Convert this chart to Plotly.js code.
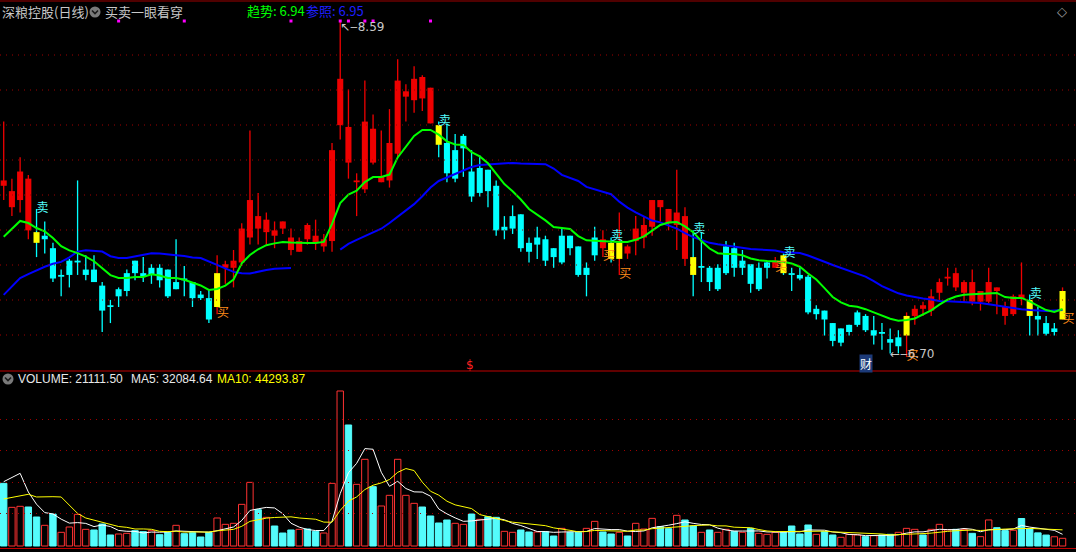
<!DOCTYPE html>
<html><head><meta charset="utf-8">
<script src="https://cdn.plot.ly/plotly-3.0.1.min.js"></script>
<style>html,body{margin:0;padding:0;background:#000;}#chart{width:1076px;height:552px;}</style>
</head><body><div id="chart"></div>
<script>
// ---------- data ----------
const open = [7.66,7.54,7.58,7.41,7.40,7.38,7.31,7.16,7.24,7.24,
7.19,7.19,7.10,6.99,7.08,7.17,7.24,7.17,7.20,7.20,
7.19,7.12,7.14,7.12,7.05,7.03,6.98,7.20,7.20,7.23,
7.37,7.42,7.40,7.38,7.42,7.30,7.29,7.36,7.34,7.32,
7.35,8.00,7.79,7.68,7.64,7.79,7.68,7.69,7.84,8.16,
8.14,8.15,8.01,8.00,7.90,7.86,7.94,7.74,7.76,7.75,
7.66,7.43,7.49,7.50,7.34,7.37,7.36,7.31,7.38,7.38,
7.32,7.20,7.37,7.31,7.34,7.25,7.28,7.35,7.37,7.43,
7.54,7.45,7.44,7.25,7.26,7.21,7.20,7.20,7.32,7.31,
7.24,7.22,7.20,7.23,7.20,7.27,7.17,7.16,7.15,6.97,
6.96,6.89,6.86,6.88,6.95,6.93,6.85,6.84,6.80,6.81,
6.82,6.93,6.97,6.96,7.06,7.14,7.09,7.06,7.01,7.01,
7.01,7.07,6.93,6.94,7.03,7.02,6.93,6.89,6.86,6.91];
const high = [8.02,7.70,7.82,7.72,7.53,7.46,7.34,7.19,7.25,7.69,
7.27,7.27,7.12,7.02,7.09,7.19,7.24,7.26,7.22,7.22,
7.19,7.36,7.21,7.12,7.07,7.08,7.27,7.24,7.30,7.45,
7.97,7.62,7.51,7.46,7.46,7.42,7.37,7.45,7.47,7.39,
7.90,8.59,8.20,7.73,8.25,8.06,7.97,8.09,8.37,8.23,
8.33,8.28,8.21,8.02,8.01,7.95,7.95,7.86,7.83,7.75,
7.69,7.49,7.55,7.50,7.37,7.43,7.38,7.31,7.42,7.38,
7.32,7.23,7.43,7.41,7.37,7.51,7.33,7.49,7.49,7.58,
7.58,7.53,7.75,7.54,7.41,7.40,7.21,7.22,7.35,7.34,
7.30,7.22,7.23,7.24,7.26,7.28,7.20,7.20,7.16,6.99,
6.96,6.89,6.86,6.88,6.96,6.94,6.93,6.89,6.86,6.85,
6.95,6.99,7.01,7.08,7.14,7.20,7.20,7.13,7.19,7.07,
7.20,7.09,7.01,7.05,7.23,7.05,6.98,6.93,6.89,7.09];
const low = [7.58,7.49,7.51,7.36,7.26,7.28,7.12,7.04,7.09,7.16,
7.13,7.12,6.84,6.89,6.98,7.04,7.13,7.12,7.11,7.09,
7.03,7.08,7.04,6.98,7.02,6.89,6.94,7.11,7.09,7.21,
7.33,7.33,7.33,7.31,7.39,7.27,7.29,7.33,7.30,7.29,
7.29,7.92,7.70,7.49,7.62,7.78,7.68,7.65,7.82,8.02,
8.07,8.08,8.01,7.82,7.68,7.68,7.71,7.57,7.60,7.54,
7.38,7.36,7.39,7.29,7.23,7.25,7.21,7.20,7.22,7.27,
7.15,7.04,7.24,7.26,7.23,7.16,7.25,7.27,7.31,7.38,
7.46,7.41,7.30,7.21,7.04,7.12,7.07,7.07,7.16,7.15,
7.16,7.06,7.07,7.14,7.20,7.16,7.07,7.13,6.94,6.91,
6.82,6.76,6.76,6.82,6.87,6.84,6.77,6.74,6.72,6.72,
6.70,6.88,6.93,6.93,7.02,7.10,7.07,7.01,6.99,6.96,
7.00,6.94,6.88,6.93,6.99,6.82,6.82,6.82,6.82,6.91];
const close = [7.69,7.63,7.74,7.70,7.34,7.36,7.14,7.15,7.16,7.23,
7.16,7.12,6.96,6.98,7.04,7.07,7.17,7.15,7.16,7.13,
7.04,7.08,7.13,7.03,7.03,6.91,7.17,7.22,7.24,7.42,
7.58,7.49,7.47,7.41,7.46,7.37,7.35,7.44,7.38,7.36,
7.86,8.26,7.99,7.69,8.02,7.98,7.71,7.90,8.25,8.19,
8.26,8.27,8.21,7.89,7.73,7.70,7.87,7.60,7.62,7.63,
7.41,7.41,7.42,7.31,7.29,7.33,7.24,7.26,7.23,7.31,
7.16,7.16,7.27,7.36,7.25,7.34,7.32,7.42,7.44,7.58,
7.58,7.53,7.51,7.49,7.16,7.20,7.12,7.08,7.17,7.20,
7.20,7.11,7.08,7.20,7.24,7.17,7.16,7.14,6.95,6.94,
6.91,6.79,6.78,6.84,6.88,6.85,6.82,6.83,6.78,6.76,
6.93,6.97,6.99,7.04,7.12,7.15,7.17,7.12,7.12,7.07,
7.12,7.09,6.98,7.04,7.05,6.93,6.91,6.83,6.84,7.07];
const volume = [171800,106000,108800,106900,79500,56700,87700,37500,52100,86800,
45700,43900,60300,30200,32900,34700,42000,39300,42000,31000,
37500,56700,33800,36600,24700,37500,76800,59400,62200,114200,
174500,99600,78600,54800,35600,43900,45700,46600,40200,35600,
171800,425000,331800,169100,237700,162700,109700,138900,237700,138900,
117000,106900,82300,63100,71300,62200,59400,87700,73100,80400,
78600,40200,37500,43900,38400,38400,39300,27400,48400,37500,
37500,48400,67600,38400,32900,37500,27400,62200,46600,75800,
53000,47500,84100,71300,54800,37500,43900,37500,45700,40200,
37500,48400,34700,32000,37500,37500,54800,32900,57600,32000,
39300,30200,23800,32000,30200,25600,28300,30200,32000,37500,
48400,45700,30200,45700,59400,43900,45700,45700,34700,25600,
71400,50300,42200,43200,75415.5,48000,36000,30000,25311.7,21111.5];
// 1 = volume bar drawn as rising (hollow red), 0 = falling (filled cyan)
const volUp = [0,1,1,0,0,1,0,1,1,1,
1,0,0,0,1,1,0,0,1,0,
0,1,0,0,0,0,1,1,1,1,
1,0,1,0,0,0,1,0,0,1,
1,1,0,1,1,0,1,1,1,1,
1,0,0,0,0,1,1,0,1,0,
0,1,1,0,0,1,0,0,1,0,
0,1,1,0,0,1,0,1,1,1,
0,0,1,0,0,1,0,1,1,0,
1,0,1,1,1,0,0,0,0,1,
0,0,1,1,1,0,1,0,0,1,
1,1,0,1,1,1,0,1,0,1,
1,0,0,1,0,0,0,0,1,1];
// trend (green) and reference (blue) indicator lines
const trendLine = [7.374,7.418,7.463,7.451,7.423,7.404,7.367,7.321,7.298,7.282,
7.263,7.237,7.198,7.159,7.143,7.143,7.149,7.149,7.164,7.157,
7.143,7.143,7.133,7.116,7.101,7.076,7.081,7.100,7.134,7.225,
7.272,7.304,7.327,7.337,7.345,7.342,7.339,7.339,7.339,7.345,
7.446,7.563,7.611,7.632,7.681,7.709,7.709,7.723,7.819,7.881,
7.940,7.973,7.973,7.947,7.909,7.892,7.889,7.849,7.825,7.786,
7.726,7.670,7.629,7.583,7.530,7.499,7.466,7.429,7.423,7.418,
7.378,7.354,7.352,7.349,7.346,7.345,7.345,7.357,7.376,7.406,
7.440,7.454,7.457,7.432,7.400,7.350,7.308,7.282,7.277,7.277,
7.270,7.252,7.242,7.238,7.238,7.234,7.224,7.206,7.168,7.134,
7.086,7.036,7.006,6.987,6.981,6.968,6.950,6.930,6.914,6.903,
6.907,6.916,6.937,6.961,6.993,7.021,7.039,7.049,7.052,7.054,
7.057,7.059,7.036,7.031,7.031,7.012,6.987,6.963,6.952,6.969];
const refLine = [7.048,7.096,7.142,7.165,7.186,7.206,7.223,7.233,7.259,7.291,
7.299,7.297,7.291,7.265,7.255,7.255,7.263,7.274,7.282,7.280,
7.277,7.271,7.266,7.258,7.255,7.237,7.217,7.197,7.177,7.169,
7.168,7.179,7.188,7.195,7.199,7.199,null,null,null,null,
null,7.302,7.334,7.357,7.378,7.399,7.419,7.451,7.487,7.522,
7.557,7.601,7.650,7.687,7.707,7.728,7.747,7.765,7.777,7.779,
7.782,7.784,7.788,7.785,7.782,7.782,7.781,7.757,7.721,7.704,
7.687,7.654,7.640,7.629,7.613,7.571,7.538,7.511,7.486,7.465,
7.455,7.437,7.420,7.394,7.372,7.356,7.340,7.332,7.325,7.319,
7.312,7.305,7.303,7.302,7.297,7.287,7.283,7.283,7.269,7.253,
7.234,7.216,7.200,7.184,7.167,7.151,7.125,7.097,7.077,7.057,
7.045,7.035,7.028,7.022,7.014,7.012,7.009,7.007,7.005,7.003,
6.995,6.988,6.980,6.972,6.967,6.963,6.960,6.958,6.961,6.963];
// volume MA values before enough history exists on the chart
const volMa5Head = [176300,188100,199300,148000];
const volMa10Head = [128900,133500,137900,141800,134400,135200,135200,134400,112400];
// signals and markers
const sellIdx = [4,53,74,84,95,125];
const buyIdx = [26,73,75,94,110,129];
const yellowIdx = [4,26,53,74,75,84,95,110,125,129];
const dotIdx = [14,22,35,41,42,44,45,52];
const dollarIdx = [57];
const caiIdx = [105];
const headerTrend = '6.94', headerRef = '6.95';

// ---------- drawing ----------
const W = 1076, H = 552;
const N = close.length;
const idx = Array.from({length: N}, (_, i) => i);
const RED = '#EE0000', CYAN = '#00FFFF', YEL = '#FFFF00';
const VRED = '#FF3232', VCYAN = '#54FCFC';
const priceRange = [6.6212, 8.702];
const volRange = [-8226, 474366];
const yellowSet = new Set(yellowIdx);
const isUp = i => close[i] >= open[i];

const px = v => v / W;            // pixel x -> paper
const py = v => 1 - v / H;        // pixel y -> paper

function movingAvg(arr, n, head) {
  return arr.map((v, i) => {
    if (i < n - 1) return head[i];
    let s = 0; for (let k = i - n + 1; k <= i; k++) s += arr[k];
    return s / n;
  });
}
const ma5 = movingAvg(volume, 5, volMa5Head);
const ma10 = movingAvg(volume, 10, volMa10Head);

const traces = [];
// wicks
traces.push({type: 'bar', x: idx, base: low, y: idx.map(i => high[i] - low[i]), width: 0.16,
  marker: {color: idx.map(i => isUp(i) ? RED : CYAN), line: {width: 0}}, xaxis: 'x', yaxis: 'y', hoverinfo: 'skip'});
// bodies
traces.push({type: 'bar', x: idx, base: idx.map(i => Math.min(open[i], close[i])),
  y: idx.map(i => Math.max(Math.abs(close[i] - open[i]), 0.006)), width: 0.74,
  marker: {color: idx.map(i => yellowSet.has(i) ? YEL : (isUp(i) ? RED : CYAN)), line: {width: 0}},
  xaxis: 'x', yaxis: 'y', hoverinfo: 'skip'});
// indicator lines
traces.push({type: 'scatter', mode: 'lines', x: idx, y: refLine, line: {color: '#0000FF', width: 2}, connectgaps: false, xaxis: 'x', yaxis: 'y'});
traces.push({type: 'scatter', mode: 'lines', x: idx, y: trendLine, line: {color: '#00FF00', width: 2}, xaxis: 'x', yaxis: 'y'});
// magenta dots along the top
const dotPrice = priceRange[1] - (priceRange[1] - priceRange[0]) * 21 / 371;
traces.push({type: 'scatter', mode: 'markers', x: dotIdx, y: dotIdx.map(() => dotPrice),
  marker: {symbol: 'square', size: 3, color: '#FF00FF'}, xaxis: 'x', yaxis: 'y'});
// signal labels
traces.push({type: 'scatter', mode: 'text', x: sellIdx, y: sellIdx.map(i => high[i]), text: sellIdx.map(() => '卖'),
  textposition: 'middle right', textfont: {family: 'Noto Sans CJK SC', size: 12, color: VCYAN}, xaxis: 'x', yaxis: 'y'});
traces.push({type: 'scatter', mode: 'text', x: buyIdx, y: buyIdx.map(i => low[i]), text: buyIdx.map(() => '买'),
  textposition: 'middle right', textfont: {family: 'Noto Sans CJK SC', size: 12, color: '#FF8C1A'}, xaxis: 'x', yaxis: 'y'});
// volume
traces.push({type: 'bar', x: idx, y: volume, width: 0.78,
  marker: {color: idx.map(i => volUp[i] ? '#000000' : VCYAN), line: {color: idx.map(i => volUp[i] ? VRED : VCYAN), width: 1}},
  xaxis: 'x', yaxis: 'y2', hoverinfo: 'skip'});
traces.push({type: 'scatter', mode: 'lines', x: idx, y: ma5, line: {color: '#FFFFFF', width: 1}, xaxis: 'x', yaxis: 'y2'});
traces.push({type: 'scatter', mode: 'lines', x: idx, y: ma10, line: {color: '#FFFF00', width: 1}, xaxis: 'x', yaxis: 'y2'});

// shapes: frame + dotted grids
const shapes = [];
[55, 90, 125, 160, 195, 230, 265, 300, 335].forEach(yy => shapes.push({type: 'line', xref: 'paper', yref: 'paper',
  x0: 0, x1: 1, y0: py(yy), y1: py(yy), line: {color: '#A00000', width: 1, dash: '1px,5px'}}));
[419.5, 450.5, 482.5, 513.5].forEach(yy => shapes.push({type: 'line', xref: 'paper', yref: 'paper',
  x0: 0, x1: 1, y0: py(yy), y1: py(yy), line: {color: '#A00000', width: 1, dash: '1px,5px'}}));
[[1, '#A00000'], [371, '#C00000'], [548.5, '#C00000']].forEach(([yy, c]) => shapes.push({type: 'line', xref: 'paper', yref: 'paper',
  x0: 0, x1: 1, y0: py(yy), y1: py(yy), line: {color: c, width: 1}}));
// round header icons
function icon(cx, cy) {
  shapes.push({type: 'circle', xref: 'paper', yref: 'paper', x0: px(cx - 5.5), x1: px(cx + 5.5), y0: py(cy + 5.5), y1: py(cy - 5.5),
    fillcolor: '#7A7A7A', line: {width: 0}});
  shapes.push({type: 'path', xref: 'paper', yref: 'paper',
    path: `M ${px(cx - 3)} ${py(cy - 1.5)} L ${px(cx)} ${py(cy + 1.5)} L ${px(cx + 3)} ${py(cy - 1.5)}`,
    line: {color: '#1A1A1A', width: 1.6}});
}
icon(95, 12);
icon(8, 379);

const ann = [];
function txt(x, y, t, color, size, family, extra) {
  ann.push(Object.assign({xref: 'paper', yref: 'paper', x: px(x), y: py(y), text: t, showarrow: false,
    xanchor: 'left', yanchor: 'middle', font: {family: family || 'Noto Sans CJK SC', size: size || 13, color: color}}, extra || {}));
}
txt(0, 12, '深粮控股(日线)', '#C8C8C8', 13);
txt(103, 12, '买卖一眼看穿', '#C8C8C8', 13);
txt(245, 11, '趋势: ' + headerTrend, '#00FF00', 13);
txt(304, 11, '参照: ' + headerRef, '#1E1EFF', 13);
txt(1055, 12, '◇', '#A0A0A0', 13, 'DejaVu Sans');
txt(16, 379, 'VOLUME: ' + volume[N - 1].toFixed(2), '#E8E8E8', 12, 'Liberation Sans');
txt(129, 379, 'MA5: ' + ma5[N - 1].toFixed(2), '#E8E8E8', 12, 'Liberation Sans');
txt(215, 379, 'MA10: ' + ma10[N - 1].toFixed(2), '#FFFF00', 12, 'Liberation Sans');

// extreme labels
let iMax = 0, iMin = 0;
idx.forEach(i => { if (high[i] > high[iMax]) iMax = i; if (low[i] < low[iMin]) iMin = i; });
ann.push({xref: 'x', yref: 'y', x: iMax, y: high[iMax], text: '↖‒' + high[iMax].toFixed(2), showarrow: false,
  xanchor: 'left', yanchor: 'top', xshift: -2, yshift: 2, font: {family: 'DejaVu Sans', size: 12, color: '#C8C8C8'}});
ann.push({xref: 'x', yref: 'y', x: iMin, y: low[iMin], text: '←‒' + low[iMin].toFixed(2), showarrow: false,
  xanchor: 'left', yanchor: 'middle', xshift: -19, yshift: 3, font: {family: 'DejaVu Sans', size: 12, color: '#C8C8C8'}});
// bottom markers of the price panel
dollarIdx.forEach(i => ann.push({xref: 'x', yref: 'paper', x: i, y: py(365), text: '$', showarrow: false,
  xanchor: 'center', yanchor: 'middle', xshift: -2, font: {family: 'DejaVu Sans', size: 12, color: '#FF2020'}}));
caiIdx.forEach(i => ann.push({xref: 'x', yref: 'paper', x: i, y: py(363), text: '财', showarrow: false,
  xanchor: 'center', yanchor: 'middle', bgcolor: '#1C3A78', borderpad: 0, font: {family: 'Noto Sans CJK SC', size: 12, color: '#FFFFFF'}}));

const layout = {
  width: W, height: H, margin: {l: 0, r: 0, t: 0, b: 0, pad: 0},
  paper_bgcolor: '#000000', plot_bgcolor: '#000000',
  showlegend: false, barmode: 'overlay', hovermode: false,
  xaxis: {range: [-0.451, 130.64], visible: false, anchor: 'y2', fixedrange: true},
  yaxis: {domain: [181 / H, 1], range: priceRange, visible: false, fixedrange: true},
  yaxis2: {domain: [3 / H, 179 / H], range: volRange, visible: false, fixedrange: true},
  shapes: shapes, annotations: ann
};
Plotly.newPlot('chart', traces, layout, {staticPlot: true, displayModeBar: false});
</script></body></html>
